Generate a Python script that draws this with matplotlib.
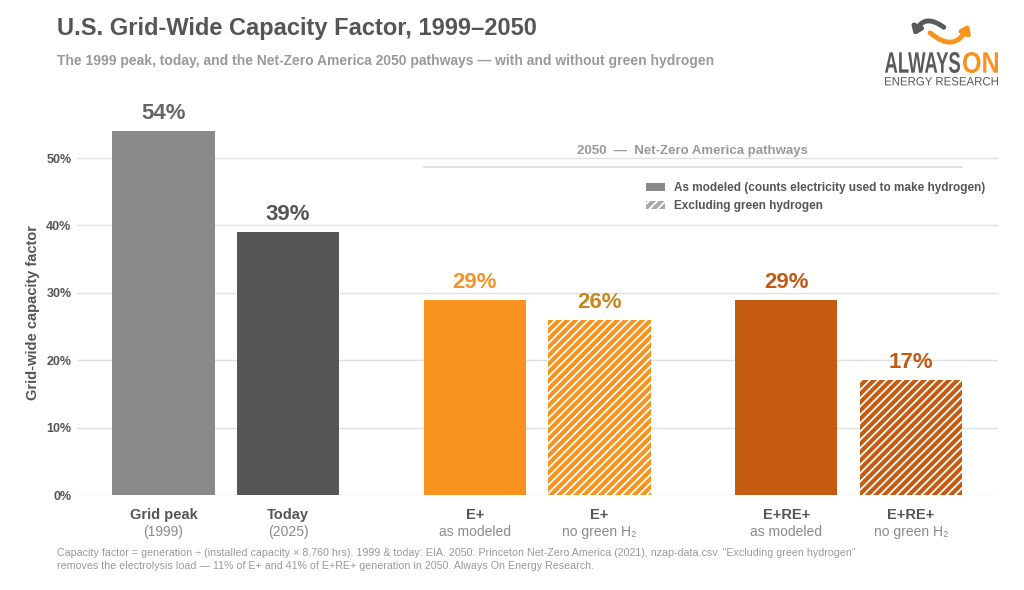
import matplotlib
matplotlib.use("Agg")
import matplotlib.pyplot as plt
from matplotlib.patches import Patch, FancyArrowPatch, PathPatch
from matplotlib.textpath import TextPath
from matplotlib.font_manager import FontProperties
from matplotlib.transforms import Affine2D, IdentityTransform

plt.rcParams['font.family'] = ['Liberation Sans', 'DejaVu Sans']
plt.rcParams['hatch.linewidth'] = 1.3

# data
bar_names = ["Grid peak", "Today", "E+", "E+", "E+RE+", "E+RE+"]
bar_notes = ["(1999)", "(2025)", "as modeled", "no green H\u2082", "as modeled", "no green H\u2082"]
cap_factor = [54, 39, 29, 26, 29, 17]
hatched = [False, False, False, True, False, True]
bar_colors = ["#8a8a8a", "#555555", "#f7931e", "#f7931e", "#c55a11", "#c55a11"]
label_colors = ["#666666", "#555555", "#f0962a", "#c8861f", "#c05a14", "#c05a14"]
y_ticks = [0, 10, 20, 30, 40, 50]
positions = [0, 1, 2.5, 3.5, 5, 6]

W, H = 1024, 590
fig = plt.figure(figsize=(W / 100, H / 100), dpi=100)
ax = fig.add_axes([77 / W, 1 - 495 / H, 921 / W, 404.4 / H])

for x, v, c, h in zip(positions, cap_factor, bar_colors, hatched):
    if h:
        ax.bar(x, v, width=0.82, color=c, edgecolor="white", linewidth=0, hatch="////", zorder=3)
    else:
        ax.bar(x, v, width=0.82, color=c, linewidth=0, zorder=3)

for x, v, lc in zip(positions, cap_factor, label_colors):
    ax.annotate(f"{v}%", (x, v), xytext=(0, 5), textcoords="offset points",
                ha="center", va="bottom", fontsize=16, fontweight="bold", color=lc)

for x, n, s in zip(positions, bar_names, bar_notes):
    ax.text(x, -3.0, n, ha="center", va="center", fontsize=10.5, fontweight="bold",
            color="#555555", clip_on=False)
    ax.text(x, -5.5, s, ha="center", va="center", fontsize=10, color="#8a8a8a", clip_on=False)

ax.set_xlim(-0.695, 6.70)
ax.set_ylim(0, 60)
ax.set_yticks(y_ticks)
ax.set_yticklabels([f"{t}%" for t in y_ticks], fontsize=9, fontweight="bold", color="#555555")
ax.set_xticks([])
ax.tick_params(axis="y", length=0, pad=4)
ax.grid(axis="y", color="#e0e0e0", linewidth=1, zorder=0)
for sp in ax.spines.values():
    sp.set_visible(False)
ax.set_ylabel("Grid-wide capacity factor", fontsize=10.5, fontweight="bold", color="#555555")
ax.yaxis.set_label_coords(-0.040, 0.452)

# 2050 header
ax.text(4.25, 51.0, "2050  \u2014  Net-Zero America pathways", ha="center", va="center",
        fontsize=9.5, fontweight="bold", color="#999999")
ax.plot([2.09, 6.41], [48.7, 48.7], color="#dddddd", linewidth=1.2, zorder=1)

handles = [Patch(facecolor="#888888", linewidth=0),
           Patch(facecolor="#aaaaaa", edgecolor="white", linewidth=0, hatch="////")]
leg = ax.legend(handles, ["As modeled (counts electricity used to make hydrogen)",
                          "Excluding green hydrogen"],
                loc="upper right", bbox_to_anchor=(0.998, 0.80), frameon=False,
                handlelength=1.6, handleheight=0.6, handletextpad=0.8, labelspacing=0.5,
                prop={"size": 8.5, "weight": "bold"})
for t in leg.get_texts():
    t.set_color("#555555")

# titles
fig.text(57 / W, 1 - 28 / H, "U.S. Grid-Wide Capacity Factor, 1999\u20132050", ha="left", va="center",
         fontsize=17, fontweight="bold", color="#555555")
fig.text(57 / W, 1 - 61 / H,
         "The 1999 peak, today, and the Net-Zero America 2050 pathways \u2014 with and without green hydrogen",
         ha="left", va="center", fontsize=10, fontweight="bold", color="#999999")

# footnote
fig.text(57 / W, 1 - 553 / H,
         "Capacity factor = generation \u00f7 (installed capacity \u00d7 8,760 hrs). 1999 & today: EIA. "
         "2050: Princeton Net-Zero America (2021), nzap-data.csv. \u201cExcluding green hydrogen\u201d",
         ha="left", va="center", fontsize=7.7, color="#999999")
fig.text(57 / W, 1 - 566 / H,
         "removes the electrolysis load \u2014 11% of E+ and 41% of E+RE+ generation in 2050. "
         "Always On Energy Research.",
         ha="left", va="center", fontsize=7.7, color="#999999")


# logo: squeeze text into a box (pixel coords from the top-left)
def fit_text(s, x0, x1, ytop, ybot, color, weight="bold"):
    tp = TextPath((0, 0), s, size=30, prop=FontProperties(family="Liberation Sans", weight=weight))
    bb = tp.get_extents()
    sx = (x1 - x0) / bb.width
    sy = (ybot - ytop) / bb.height
    tr = Affine2D().translate(-bb.x0, -bb.y0).scale(sx, sy).translate(x0, H - ybot)
    fig.patches.append(PathPatch(tr.transform_path(tp), transform=IdentityTransform(),
                                 facecolor=color, linewidth=0))


fit_text("ALWAYS", 885, 960, 52, 73, "#5a5a5a")
fit_text("ON", 963, 998, 52, 73, "#f7931e")
fit_text("ENERGY RESEARCH", 885, 998, 77, 85.5, "#5a5a5a", weight="normal")
fig.patches.append(FancyArrowPatch((946 / W, 1 - 29 / H), (913 / W, 1 - 38 / H),
                                   transform=fig.transFigure, connectionstyle="arc3,rad=0.7",
                                   arrowstyle="-|>,head_length=4,head_width=3", color="#5a5a5a",
                                   linewidth=3.5))
fig.patches.append(FancyArrowPatch((928 / W, 1 - 31 / H), (970 / W, 1 - 22 / H),
                                   transform=fig.transFigure, connectionstyle="arc3,rad=0.7",
                                   arrowstyle="-|>,head_length=4,head_width=3", color="#f7931e",
                                   linewidth=3.5))

fig.savefig("out.png", dpi=100, facecolor="white")
